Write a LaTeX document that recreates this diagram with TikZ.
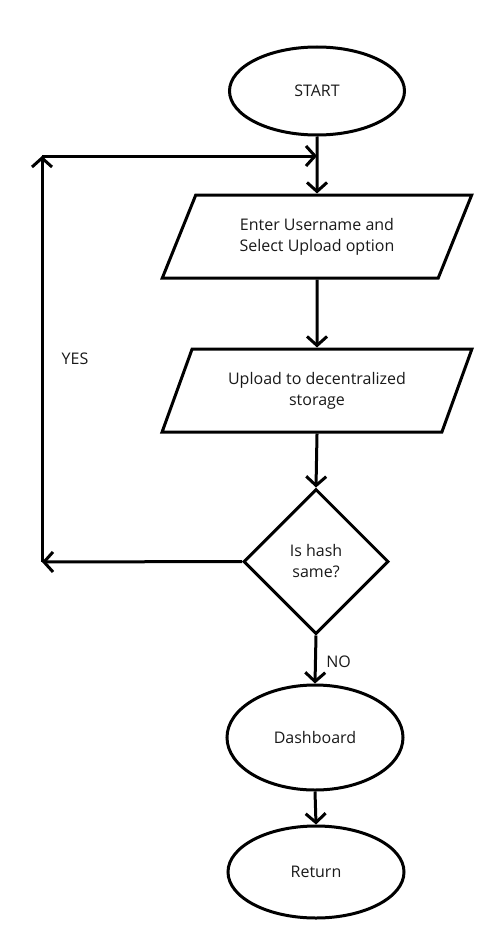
\documentclass[tikz,border=0pt]{standalone}
\usepackage{fontspec}
\setmainfont{Open Sans}
\usetikzlibrary{shapes.geometric,arrows.meta}
\begin{document}
\begin{tikzpicture}[x=1pt,y=-1pt,
  every node/.style={font=\fontsize{16}{21}\selectfont, text=black!90, align=center},
  line/.style={line width=3pt, draw=black},
  term/.style={line, ellipse, inner sep=0pt},
  io/.style={line, trapezium, trapezium left angle=60, trapezium right angle=120,
             trapezium stretches=true, minimum width=310pt, minimum height=83pt, inner sep=0pt},
  decide/.style={line, diamond, minimum width=145pt, minimum height=145pt, inner sep=0pt},
  flow/.style={line, -{Straight Barb[length=9pt,width=20pt,line width=3pt]}},
  lbl/.style={font=\fontsize{16}{20}\selectfont}
]
\useasboundingbox (0,0) rectangle (496,931);
\node[term, minimum width=175pt, minimum height=88pt] (start) at (317,91) {START};
\node[io] (p1) at (317,236.5) {Enter Username and\\Select Upload option};
\node[io] (p2) at (317,390.5) {Upload to decentralized\\storage};
\node[decide] (dec) at (316,561.5) {Is hash\\same?};
\node[term, minimum width=176pt, minimum height=105pt] (dash) at (315,737.5) {Dashboard};
\node[term, minimum width=176pt, minimum height=92pt] (ret) at (316,872) {Return};

\coordinate (join) at (317,156);
\coordinate (tl) at (42,156);
\coordinate (bl) at (42,562);

\draw[flow] (start.south) -- (p1.north);
\draw[flow] (p1.south) -- (p2.north);
\draw[flow] (p2.south) -- (dec.north);
\draw[flow] (dec.south) -- node[lbl, right, xshift=6pt, yshift=-2pt] (no) {NO} (dash.north);
\draw[flow] (dash.south) -- (ret.north);
\draw[flow] (dec.west) -- (bl);
\draw[flow] (bl) -- (tl);
\draw[flow] (tl) -- (join);
\node[lbl] (yes) at (75,359) {YES};
\end{tikzpicture}
\end{document}
